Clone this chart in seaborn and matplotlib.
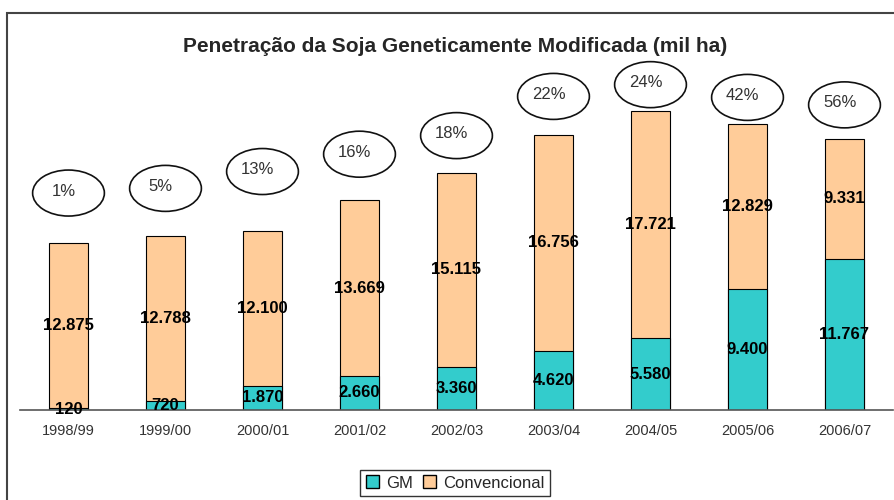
import matplotlib.pyplot as plt
from matplotlib.patches import Ellipse, Rectangle, Patch
import seaborn as sns
import pandas as pd

safras = ['1998/99', '1999/00', '2000/01', '2001/02', '2002/03',
          '2003/04', '2004/05', '2005/06', '2006/07']
gm = [120, 720, 1870, 2660, 3360, 4620, 5580, 9400, 11767]
convencional = [12875, 12788, 12100, 13669, 15115, 16756, 17721, 12829, 9331]
penetracao = [1, 5, 13, 16, 18, 22, 24, 42, 56]

# gap between bar top and ellipse centre (data units)
ellipse_gap = [3890, 3740, 4590, 3580, 2880, 3030, 2020, 2100, 2650]

def fmt(v):
    return f'{v:,}'.replace(',', '.')

df = pd.DataFrame({'safra': safras, 'gm': gm, 'conv': convencional})
df['total'] = df['gm'] + df['conv']

sns.set_style('white')
plt.rcParams['font.family'] = ['Liberation Sans', 'DejaVu Sans']

teal = '#33CCCC'
peach = '#FFCC99'

fig = plt.figure(figsize=(8.95, 5), dpi=100)
ax = fig.add_axes([20 / 895, 0.18, 873 / 895, 0.70])

sns.barplot(data=df, x='safra', y='total', color=peach, width=0.4,
            edgecolor='black', linewidth=0.8, saturation=1, ax=ax)
sns.barplot(data=df, x='safra', y='gm', color=teal, width=0.4,
            edgecolor='black', linewidth=0.8, saturation=1, ax=ax)

ax.set_xlim(-0.5, len(safras) - 0.5)
ax.set_ylim(0, 27240)
ax.set_xlabel('')
ax.set_ylabel('')
ax.set_yticks([])
for s in ['top', 'right', 'left']:
    ax.spines[s].set_visible(False)
ax.spines['bottom'].set_color('#555555')
ax.spines['bottom'].set_linewidth(1.2)
ax.set_xticks(range(len(safras)))
ax.set_xticklabels(safras, fontsize=10.5, color='#333333')
ax.tick_params(axis='x', which='major', length=0, pad=10)
ax.set_xticks([i - 0.5 for i in range(len(safras) + 1)], minor=True)
ax.tick_params(axis='x', which='minor', length=5, color='#555555', width=1.2)

for i, row in df.iterrows():
    ax.text(i, row['gm'] + row['conv'] / 2, fmt(row['conv']), ha='center',
            va='center', fontsize=12, fontweight='bold', color='black')
    ax.text(i, row['gm'] / 2, fmt(row['gm']), ha='center', va='center',
            fontsize=12, fontweight='bold', color='black')
    cy = row['total'] + ellipse_gap[i]
    ax.add_patch(Ellipse((i, cy), 0.74, 3580, facecolor='white',
                         edgecolor='#111111', linewidth=1.2, clip_on=False))
    ax.text(i - 0.05, cy + 150, f'{penetracao[i]}%', ha='center', va='center',
            fontsize=12, color='#333333')

fig.text(455 / 895, 1 - 47 / 500,
         'Penetração da Soja Geneticamente Modificada (mil ha)',
         ha='center', va='center', fontsize=15, fontweight='bold')

fig.patches.append(Rectangle((7 / 895, -0.1), 1.0, 1.1 - 13 / 500,
                             transform=fig.transFigure, fill=False,
                             edgecolor='#444444', linewidth=1.5))

handles = [Patch(facecolor=teal, edgecolor='black', label='GM'),
           Patch(facecolor=peach, edgecolor='black', label='Convencional')]
fig.legend(handles=handles, loc='center', bbox_to_anchor=(455 / 895, 1 - 483 / 500),
           ncol=2, fontsize=12, frameon=True, fancybox=False, edgecolor='black',
           handlelength=0.8, handleheight=0.8, handletextpad=0.4,
           columnspacing=0.6, borderpad=0.35)

fig.savefig('out.png', dpi=100)
